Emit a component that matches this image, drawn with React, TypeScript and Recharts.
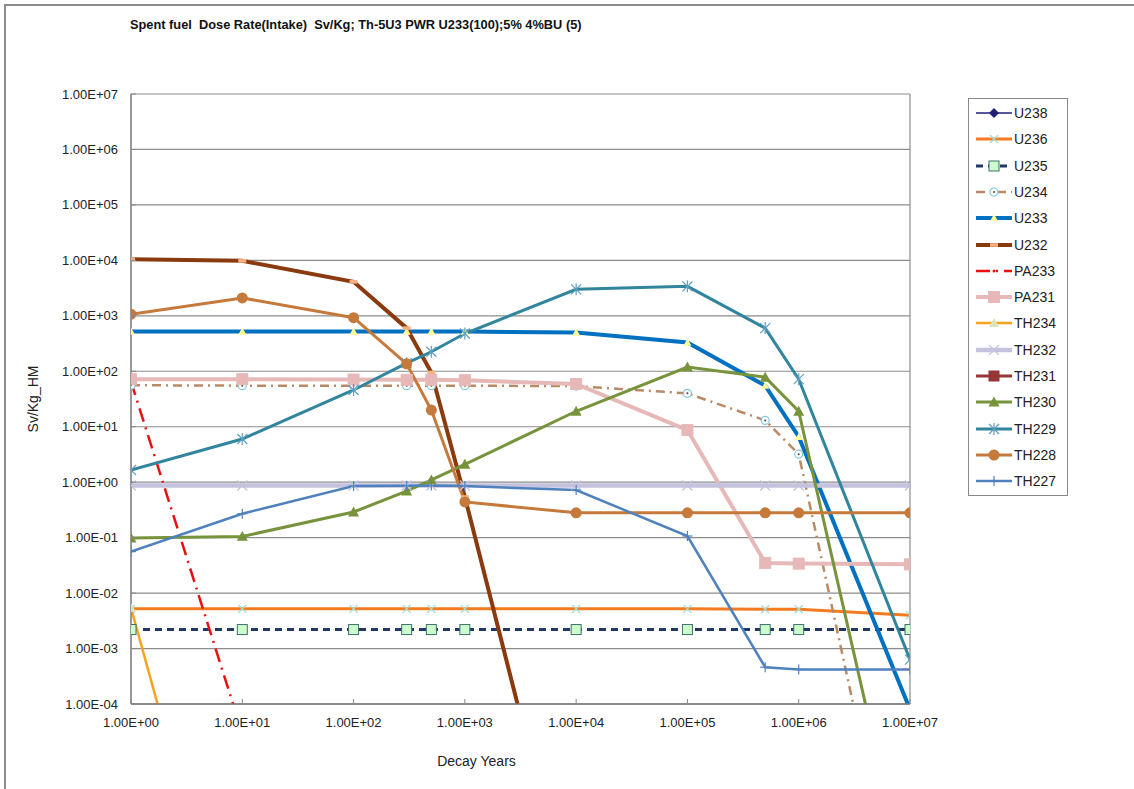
import React from 'react'
import { LineChart, Line, XAxis, YAxis, CartesianGrid, ReferenceLine } from 'recharts'

// decay times (years) and dose values Sv/Kg_HM
const YEARS = [1, 10, 100, 300, 500, 1000, 1e4, 1e5, 5e5, 1e6, 1e7]
const X_TICKS = [1, 10, 100, 1e3, 1e4, 1e5, 1e6, 1e7]
const Y_TICKS = [1e-4, 1e-3, 1e-2, 1e-1, 1, 10, 100, 1e3, 1e4, 1e5, 1e6, 1e7]

const U238 = [null, null, null, null, null, null, null, null, null, null, null]
const U236 = [5.2e-3, 5.2e-3, 5.2e-3, 5.2e-3, 5.2e-3, 5.2e-3, 5.2e-3, 5.2e-3, 5.1e-3, 5.1e-3, 4.0e-3]
const U235 = [2.2e-3, 2.2e-3, 2.2e-3, 2.2e-3, 2.2e-3, 2.2e-3, 2.2e-3, 2.2e-3, 2.2e-3, 2.2e-3, 2.2e-3]
const U234 = [56, 55, 55, 55, 55, 55, 54, 40, 13, 3.2, 2e-9]
const U233 = [520, 520, 520, 520, 520, 520, 500, 330, 55, 6.6, 8e-5]
const U232 = [1.05e4, 9.8e3, 4.1e3, 600, 95, 0.54, 7e-9, null, null, null, null]
const PA233 = [65, 3e-5, null, null, null, null, null, null, null, null, null]
const PA231 = [72, 72, 71, 70, 70, 69, 59, 8.7, 0.035, 0.034, 0.033]
const TH234 = [5.4e-3, 3e-10, null, null, null, null, null, null, null, null, null]
const TH232 = [0.87, 0.87, 0.87, 0.87, 0.87, 0.87, 0.87, 0.87, 0.87, 0.87, 0.87]
const TH231 = [null, null, null, null, null, null, null, null, null, null, null]
const TH230 = [0.098, 0.105, 0.29, 0.69, 1.1, 2.1, 19, 119, 78, 19, 3e-8]
const TH229 = [1.66, 6.0, 46, 140, 225, 480, 3.0e3, 3.4e3, 600, 72, 6.3e-4]
const TH228 = [1.07e3, 2.1e3, 925, 136, 20, 0.44, 0.28, 0.28, 0.28, 0.28, 0.28]
const TH227 = [0.056, 0.27, 0.85, 0.86, 0.87, 0.85, 0.72, 0.107, 4.6e-4, 4.2e-4, 4.2e-4]

type Marker = 'diamond' | 'x' | 'square' | 'circleDot' | 'triangle' | 'bar' | 'dot' | 'star' | 'circle' | 'plus'

interface Series {
    key: string
    values: (number | null)[]
    color: string
    width: number
    dash?: string
    marker: Marker
    mColor: string
    mFill?: string
    mSize: number
}

const SERIES: Series[] = [
    { key: 'U238', values: U238, color: '#1F1F7A', width: 1.5, marker: 'diamond', mColor: '#1F1F7A', mSize: 5 },
    { key: 'U236', values: U236, color: '#F47B20', width: 3, marker: 'x', mColor: '#9FDCD0', mSize: 4 },
    { key: 'U235', values: U235, color: '#1F3864', width: 3, dash: '7 5', marker: 'square', mColor: '#3E6E6E', mFill: '#CCFFCC', mSize: 5 },
    { key: 'U234', values: U234, color: '#B98A66', width: 2.5, dash: '9 5 2 5', marker: 'circleDot', mColor: '#7EC8DC', mSize: 4 },
    { key: 'U233', values: U233, color: '#0070C0', width: 4, marker: 'triangle', mColor: '#FFFF99', mFill: '#FFFF99', mSize: 4 },
    { key: 'U232', values: U232, color: '#8B3A0F', width: 4, marker: 'bar', mColor: '#F4B183', mFill: '#F4B183', mSize: 4 },
    { key: 'PA233', values: PA233, color: '#E81010', width: 2.5, dash: '14 6 2 6', marker: 'dot', mColor: '#E81010', mSize: 1.5 },
    { key: 'PA231', values: PA231, color: '#E6B9B8', width: 4, marker: 'square', mColor: '#E6B9B8', mFill: '#E6B9B8', mSize: 5.5 },
    { key: 'TH234', values: TH234, color: '#F8A21F', width: 2.5, marker: 'triangle', mColor: '#D8E4BC', mFill: '#D8E4BC', mSize: 5 },
    { key: 'TH232', values: TH232, color: '#C4C2DE', width: 4.5, marker: 'x', mColor: '#C4C2DE', mSize: 5 },
    { key: 'TH231', values: TH231, color: '#953735', width: 3, marker: 'square', mColor: '#953735', mFill: '#953735', mSize: 5 },
    { key: 'TH230', values: TH230, color: '#77933C', width: 3, marker: 'triangle', mColor: '#77933C', mFill: '#77933C', mSize: 5.5 },
    { key: 'TH229', values: TH229, color: '#31859C', width: 3, marker: 'star', mColor: '#5E9FC0', mSize: 5 },
    { key: 'TH228', values: TH228, color: '#C5793A', width: 3, marker: 'circle', mColor: '#C5793A', mFill: '#C5793A', mSize: 5.5 },
    { key: 'TH227', values: TH227, color: '#4F81BD', width: 2.5, marker: 'plus', mColor: '#4F81BD', mSize: 5 },
]

const data = YEARS.map((year, i) => {
    const row: Record<string, number | null> = { year }
    SERIES.forEach(s => { row[s.key] = s.values[i] })
    return row
})

const FONT = '"Liberation Sans", Arial, sans-serif'

const fmtE = (v: number) => {
    const e = Math.floor(Math.log10(v) + 1e-9)
    const m = (v / Math.pow(10, e)).toFixed(2)
    return `${m}E${e < 0 ? '-' : '+'}${String(Math.abs(e)).padStart(2, '0')}`
}

function drawMarker(s: Series, cx: number, cy: number, k?: string | number) {
    const r = s.mSize
    const c = s.mColor
    switch (s.marker) {
        case 'diamond':
            return <polygon key={k} points={`${cx},${cy - r} ${cx + r},${cy} ${cx},${cy + r} ${cx - r},${cy}`} fill={c} />
        case 'x':
            return (
                <g key={k} stroke={c} strokeWidth={1.3}>
                    <line x1={cx - r} y1={cy - r} x2={cx + r} y2={cy + r} />
                    <line x1={cx - r} y1={cy + r} x2={cx + r} y2={cy - r} />
                </g>
            )
        case 'square':
            return <rect key={k} x={cx - r} y={cy - r} width={r * 2} height={r * 2} fill={s.mFill} stroke={c} strokeWidth={1} />
        case 'circleDot':
            return (
                <g key={k}>
                    <circle cx={cx} cy={cy} r={r} fill="#fff" stroke={c} strokeWidth={1.2} />
                    <circle cx={cx} cy={cy} r={1} fill="#444" />
                </g>
            )
        case 'triangle':
            return <polygon key={k} points={`${cx},${cy - r} ${cx + r},${cy + r * 0.8} ${cx - r},${cy + r * 0.8}`} fill={s.mFill} />
        case 'bar':
            return <rect key={k} x={cx - r} y={cy - 1.8} width={r * 2} height={3.6} fill={s.mFill} />
        case 'dot':
            return <circle key={k} cx={cx} cy={cy} r={r} fill={c} />
        case 'star':
            return (
                <g key={k} stroke={c} strokeWidth={1.2}>
                    <line x1={cx - r} y1={cy - r} x2={cx + r} y2={cy + r} />
                    <line x1={cx - r} y1={cy + r} x2={cx + r} y2={cy - r} />
                    <line x1={cx} y1={cy - r - 1} x2={cx} y2={cy + r + 1} />
                </g>
            )
        case 'circle':
            return <circle key={k} cx={cx} cy={cy} r={r} fill={s.mFill} />
        case 'plus':
            return (
                <g key={k} stroke={c} strokeWidth={1.2}>
                    <line x1={cx - r} y1={cy} x2={cx + r} y2={cy} />
                    <line x1={cx} y1={cy - r} x2={cx} y2={cy + r} />
                </g>
            )
    }
    return null
}

const makeDot = (s: Series) => (props: any) => {
    const { cx, cy, index, value } = props
    if (cx == null || cy == null || value == null) return <g key={`e-${index}`} />
    return drawMarker(s, cx, cy, `d-${index}`)
}

const XTick = ({ x, y, payload }: any) => (
    <g>
        <line x1={x} y1={y} x2={x} y2={y - 5} stroke="#888" />
        <text x={x} y={y + 23} textAnchor="middle" fontSize={13} fill="#222" fontFamily={FONT}>
            {fmtE(payload.value)}
        </text>
    </g>
)

const YTick = ({ x, y, payload }: any) => (
    <g>
        <line x1={x} y1={y} x2={x + 5} y2={y} stroke="#888" />
        <text x={x - 13} y={y + 4.5} textAnchor="end" fontSize={13} fill="#222" fontFamily={FONT}>
            {fmtE(payload.value)}
        </text>
    </g>
)

function Legend() {
    return (
        <div style={{
            position: 'absolute', left: 968, top: 98, width: 100, height: 398,
            border: '1px solid #888', background: '#fff', boxSizing: 'border-box'
        }}>
            {SERIES.map((s, i) => (
                <div key={s.key} style={{ position: 'absolute', left: 6, top: 7 + i * 26.3, height: 14, display: 'flex', alignItems: 'center' }}>
                    <svg width={38} height={14}>
                        <line x1={1} y1={7} x2={37} y2={7} stroke={s.color} strokeWidth={s.width} strokeDasharray={s.dash} />
                        {drawMarker(s, 19, 7)}
                    </svg>
                    <span style={{ fontFamily: FONT, fontSize: 14, color: '#222', marginLeft: 1 }}>{s.key}</span>
                </div>
            ))}
        </div>
    )
}

export default function App() {
    return (
        <div style={{ position: 'absolute', left: 0, top: 0, width: 1134, height: 789, background: '#fff', overflow: 'hidden' }}>
            <div style={{ position: 'absolute', left: 4, top: 4, width: 1200, height: 900, borderTop: '2px solid #8c8c8c', borderLeft: '2px solid #8c8c8c' }} />
            <div style={{
                position: 'absolute', left: 130, top: 17, whiteSpace: 'pre',
                fontFamily: FONT, fontWeight: 'bold', fontSize: 12.8, color: '#111'
            }}>
                {'Spent fuel  Dose Rate(Intake)  Sv/Kg; Th-5U3 PWR U233(100);5% 4%BU (5)'}
            </div>
            <div style={{ position: 'absolute', left: 0, top: 0 }}>
                <LineChart width={1134} height={789} data={data} margin={{ top: 94, right: 224, bottom: 0, left: 0 }}>
                    <CartesianGrid horizontal vertical={false} stroke="#8c8c8c" strokeWidth={1.2} />
                    <XAxis
                        dataKey="year"
                        type="number"
                        scale="log"
                        domain={[1, 1e7]}
                        ticks={X_TICKS}
                        interval={0}
                        allowDataOverflow
                        height={85}
                        tickSize={0}
                        tickMargin={0}
                        tickLine={false}
                        tick={<XTick />}
                        axisLine={{ stroke: '#777', strokeWidth: 1.5 }}
                        label={{ value: 'Decay Years', position: 'insideBottom', offset: 23, dx: -44, fontSize: 14, fill: '#222', fontFamily: FONT }}
                    />
                    <YAxis
                        type="number"
                        scale="log"
                        domain={[1e-4, 1e7]}
                        ticks={Y_TICKS}
                        interval={0}
                        allowDataOverflow
                        width={131}
                        tickSize={0}
                        tickMargin={0}
                        tickLine={false}
                        tick={<YTick />}
                        axisLine={{ stroke: '#777', strokeWidth: 1.5 }}
                        label={{
                            content: () => (
                                <text x={33} y={399} transform="rotate(-90 33 399)" textAnchor="middle" dominantBaseline="central"
                                    fontSize={14} fill="#222" fontFamily={FONT}>Sv/Kg_HM</text>
                            )
                        }}
                    />
                    <ReferenceLine x={1e7} stroke="#8c8c8c" strokeWidth={1.2} />
                    {SERIES.map(s => (
                        <Line
                            key={s.key}
                            type="linear"
                            dataKey={s.key}
                            name={s.key}
                            stroke={s.color}
                            strokeWidth={s.width}
                            strokeDasharray={s.dash}
                            dot={makeDot(s)}
                            activeDot={false}
                            isAnimationActive={false}
                        />
                    ))}
                </LineChart>
            </div>
            <Legend />
        </div>
    )
}
